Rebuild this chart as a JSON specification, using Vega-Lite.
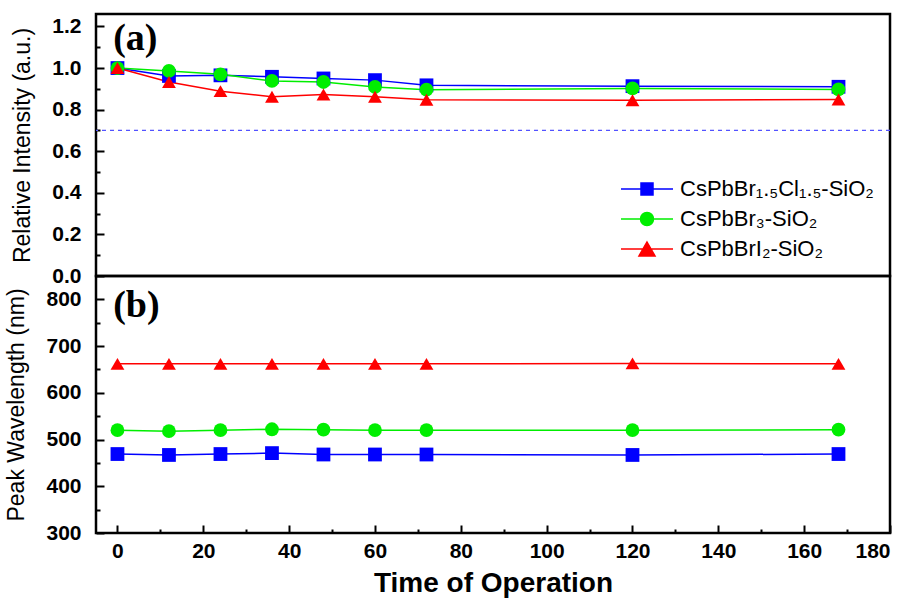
{
  "$schema": "https://vega.github.io/schema/vega-lite/v6.json",
  "padding": {"left": 4, "top": 12, "right": 20, "bottom": 5},
  "background": "white",
  "config": {
    "view": {"stroke": "black", "strokeWidth": 2.5},
    "axis": {
      "domain": false, "grid": false,
      "labelFont": "Liberation Sans", "labelFontWeight": "bold", "labelFontSize": 21, "labelColor": "black",
      "tickColor": "black", "tickWidth": 2,
      "titleFont": "Liberation Sans", "titleColor": "black"
    },
    "legend": {
      "title": null, "orient": "bottom-right", "offset": 16, "padding": 0,
      "labelFont": "Liberation Sans", "labelFontSize": 22, "labelColor": "black", "labelLimit": 400,
      "symbolSize": 400, "labelOffset": 38, "rowPadding": 8
    }
  },
  "datasets": {
    "pts": [
      {"series": "CsPbBr₁.₅Cl₁.₅-SiO₂", "t": 0, "intensity": 1.0, "wavelength": 469},
      {"series": "CsPbBr₁.₅Cl₁.₅-SiO₂", "t": 12, "intensity": 0.962, "wavelength": 467},
      {"series": "CsPbBr₁.₅Cl₁.₅-SiO₂", "t": 24, "intensity": 0.965, "wavelength": 469},
      {"series": "CsPbBr₁.₅Cl₁.₅-SiO₂", "t": 36, "intensity": 0.958, "wavelength": 471},
      {"series": "CsPbBr₁.₅Cl₁.₅-SiO₂", "t": 48, "intensity": 0.95, "wavelength": 468},
      {"series": "CsPbBr₁.₅Cl₁.₅-SiO₂", "t": 60, "intensity": 0.942, "wavelength": 468},
      {"series": "CsPbBr₁.₅Cl₁.₅-SiO₂", "t": 72, "intensity": 0.917, "wavelength": 468},
      {"series": "CsPbBr₁.₅Cl₁.₅-SiO₂", "t": 120, "intensity": 0.913, "wavelength": 467},
      {"series": "CsPbBr₁.₅Cl₁.₅-SiO₂", "t": 168, "intensity": 0.91, "wavelength": 469},
      {"series": "CsPbBr₃-SiO₂", "t": 0, "intensity": 1.0, "wavelength": 520},
      {"series": "CsPbBr₃-SiO₂", "t": 12, "intensity": 0.986, "wavelength": 518},
      {"series": "CsPbBr₃-SiO₂", "t": 24, "intensity": 0.97, "wavelength": 520},
      {"series": "CsPbBr₃-SiO₂", "t": 36, "intensity": 0.938, "wavelength": 522},
      {"series": "CsPbBr₃-SiO₂", "t": 48, "intensity": 0.933, "wavelength": 521},
      {"series": "CsPbBr₃-SiO₂", "t": 60, "intensity": 0.909, "wavelength": 520},
      {"series": "CsPbBr₃-SiO₂", "t": 72, "intensity": 0.896, "wavelength": 520},
      {"series": "CsPbBr₃-SiO₂", "t": 120, "intensity": 0.902, "wavelength": 520},
      {"series": "CsPbBr₃-SiO₂", "t": 168, "intensity": 0.897, "wavelength": 521},
      {"series": "CsPbBrI₂-SiO₂", "t": 0, "intensity": 1.0, "wavelength": 662},
      {"series": "CsPbBrI₂-SiO₂", "t": 12, "intensity": 0.933, "wavelength": 662},
      {"series": "CsPbBrI₂-SiO₂", "t": 24, "intensity": 0.889, "wavelength": 662},
      {"series": "CsPbBrI₂-SiO₂", "t": 36, "intensity": 0.862, "wavelength": 662},
      {"series": "CsPbBrI₂-SiO₂", "t": 48, "intensity": 0.873, "wavelength": 662},
      {"series": "CsPbBrI₂-SiO₂", "t": 60, "intensity": 0.862, "wavelength": 662},
      {"series": "CsPbBrI₂-SiO₂", "t": 72, "intensity": 0.848, "wavelength": 662},
      {"series": "CsPbBrI₂-SiO₂", "t": 120, "intensity": 0.845, "wavelength": 663},
      {"series": "CsPbBrI₂-SiO₂", "t": 168, "intensity": 0.849, "wavelength": 662}
    ],
    "panelA": [{"label": "(a)", "t": -1, "v": 1.14}],
    "panelB": [{"label": "(b)", "t": -1, "v": 785}],
    "ref": [{"v": 0.7}]
  },
  "spacing": 0,
  "bounds": "flush",
  "resolve": {
    "scale": {"color": "independent", "shape": "independent"},
    "legend": {"color": "independent", "shape": "independent"}
  },
  "vconcat": [
    {
      "width": 794,
      "height": 262,
      "resolve": {"axis": {"y": "independent"}},
      "layer": [
        {
          "data": {"name": "ref"},
          "mark": {"type": "rule", "stroke": "#5252ff", "strokeWidth": 1.2, "strokeDash": [4, 4]},
          "encoding": {
            "y": {"field": "v", "type": "quantitative", "scale": {"domain": [0, 1.26], "nice": false, "zero": false}, "axis": null}
          }
        },
        {
          "data": {"name": "pts"},
          "mark": {"type": "line", "strokeWidth": 1.5},
          "encoding": {
            "x": {"field": "t", "type": "quantitative", "scale": {"domain": [-5, 180], "nice": false, "zero": false}, "axis": null},
            "y": {"field": "intensity", "type": "quantitative",
                  "axis": {"orient": "left", "values": [0, 0.2, 0.4, 0.6, 0.8, 1.0, 1.2], "format": ".1f", "tickSize": -8, "labelPadding": 23, "title": "Relative Intensity (a.u.)", "titleFontSize": 23, "titleFontWeight": "normal", "titlePadding": 17}},
            "color": {"field": "series", "type": "nominal",
                      "scale": {"domain": ["CsPbBr₁.₅Cl₁.₅-SiO₂", "CsPbBr₃-SiO₂", "CsPbBrI₂-SiO₂"], "range": ["#0000ff", "#00ee00", "#ff0000"]},
                      "legend": {
                        "encode": {"symbols": {"update": {
                          "shape": {"signal": "indexof(datum.value, 'Cl') >= 0 ? 'M-1,0H4.2M1,-0.6H2.2V0.6H1Z' : indexof(datum.value, 'Br₃') >= 0 ? 'M-1,0H4.2M2.25,0A0.65,0.65 0 1,1 0.95,0A0.65,0.65 0 1,1 2.25,0Z' : 'M-1,0H4.2M1.6,-0.69L2.4,0.69H0.8Z'"},
                          "stroke": {"signal": "indexof(datum.value, 'Cl') >= 0 ? '#0000ff' : indexof(datum.value, 'Br₃') >= 0 ? '#00ee00' : '#ff0000'"},
                          "fill": {"signal": "indexof(datum.value, 'Cl') >= 0 ? '#0000ff' : indexof(datum.value, 'Br₃') >= 0 ? '#00ee00' : '#ff0000'"},
                          "strokeWidth": {"value": 1.5},
                          "opacity": {"value": 1}
                        }}}
                      }}
          }
        },
        {
          "data": {"name": "pts"},
          "mark": {"type": "point", "filled": true, "opacity": 1, "size": 190},
          "encoding": {
            "x": {"field": "t", "type": "quantitative", "axis": null},
            "y": {"field": "intensity", "type": "quantitative",
                  "axis": {"orient": "left", "values": [0.1, 0.3, 0.5, 0.7, 0.9, 1.1], "labels": false, "tickSize": -4, "title": null}},
            "color": {"field": "series", "type": "nominal",
                      "legend": {
                        "encode": {"symbols": {"update": {
                          "shape": {"signal": "indexof(datum.value, 'Cl') >= 0 ? 'M-1,0H4.2M1,-0.6H2.2V0.6H1Z' : indexof(datum.value, 'Br₃') >= 0 ? 'M-1,0H4.2M2.25,0A0.65,0.65 0 1,1 0.95,0A0.65,0.65 0 1,1 2.25,0Z' : 'M-1,0H4.2M1.6,-0.69L2.4,0.69H0.8Z'"},
                          "stroke": {"signal": "indexof(datum.value, 'Cl') >= 0 ? '#0000ff' : indexof(datum.value, 'Br₃') >= 0 ? '#00ee00' : '#ff0000'"},
                          "fill": {"signal": "indexof(datum.value, 'Cl') >= 0 ? '#0000ff' : indexof(datum.value, 'Br₃') >= 0 ? '#00ee00' : '#ff0000'"},
                          "strokeWidth": {"value": 1.5},
                          "opacity": {"value": 1}
                        }}}
                      }},
            "shape": {"field": "series", "type": "nominal",
                      "scale": {"domain": ["CsPbBrI₂-SiO₂", "CsPbBr₃-SiO₂", "CsPbBr₁.₅Cl₁.₅-SiO₂"], "range": ["triangle-up", "circle", "square"]},
                      "legend": null}
          }
        },
        {
          "data": {"name": "panelA"},
          "mark": {"type": "text", "align": "left", "baseline": "middle", "font": "Liberation Serif", "fontWeight": "bold", "fontSize": 38, "color": "black"},
          "encoding": {
            "x": {"field": "t", "type": "quantitative", "axis": null},
            "y": {"field": "v", "type": "quantitative", "axis": null},
            "text": {"field": "label"}
          }
        }
      ]
    },
    {
      "width": 794,
      "height": 257,
      "resolve": {"axis": {"y": "independent", "x": "independent"}},
      "layer": [
        {
          "data": {"name": "pts"},
          "mark": {"type": "line", "strokeWidth": 1.5},
          "encoding": {
            "x": {"field": "t", "type": "quantitative", "scale": {"domain": [-5, 180], "nice": false, "zero": false},
                  "axis": {"orient": "bottom", "values": [0, 20, 40, 60, 80, 100, 120, 140, 160, 180], "tickSize": -8, "labelPadding": 15, "title": "Time of Operation", "titleFontSize": 28, "titleFontWeight": "bold", "titlePadding": 8}},
            "y": {"field": "wavelength", "type": "quantitative", "scale": {"domain": [300, 850], "nice": false, "zero": false},
                  "axis": {"orient": "left", "values": [300, 400, 500, 600, 700, 800], "tickSize": -8, "labelPadding": 23, "title": "Peak Wavelength (nm)", "titleFontSize": 23, "titleFontWeight": "normal", "titlePadding": 17}},
            "color": {"field": "series", "type": "nominal",
                      "scale": {"domain": ["CsPbBr₁.₅Cl₁.₅-SiO₂", "CsPbBr₃-SiO₂", "CsPbBrI₂-SiO₂"], "range": ["#0000ff", "#00ee00", "#ff0000"]},
                      "legend": null}
          }
        },
        {
          "data": {"name": "pts"},
          "mark": {"type": "point", "filled": true, "opacity": 1, "size": 190},
          "encoding": {
            "x": {"field": "t", "type": "quantitative",
                  "axis": {"orient": "bottom", "values": [10, 30, 50, 70, 90, 110, 130, 150, 170], "labels": false, "tickSize": -4, "title": null}},
            "y": {"field": "wavelength", "type": "quantitative",
                  "axis": {"orient": "left", "values": [350, 450, 550, 650, 750], "labels": false, "tickSize": -4, "title": null}},
            "color": {"field": "series", "type": "nominal", "legend": null},
            "shape": {"field": "series", "type": "nominal",
                      "scale": {"domain": ["CsPbBrI₂-SiO₂", "CsPbBr₃-SiO₂", "CsPbBr₁.₅Cl₁.₅-SiO₂"], "range": ["triangle-up", "circle", "square"]},
                      "legend": null}
          }
        },
        {
          "data": {"name": "panelB"},
          "mark": {"type": "text", "align": "left", "baseline": "middle", "font": "Liberation Serif", "fontWeight": "bold", "fontSize": 38, "color": "black"},
          "encoding": {
            "x": {"field": "t", "type": "quantitative", "axis": null},
            "y": {"field": "v", "type": "quantitative", "axis": null},
            "text": {"field": "label"}
          }
        }
      ]
    }
  ]
}
